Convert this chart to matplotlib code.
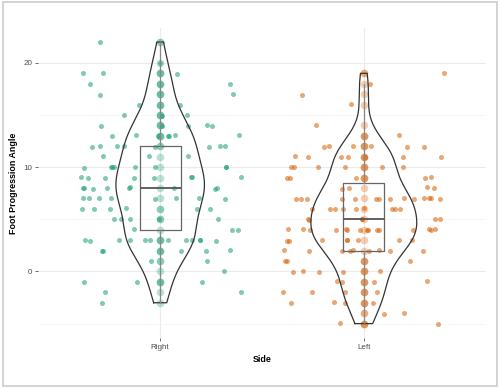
import numpy as np
import matplotlib
matplotlib.use("Agg")
import matplotlib.pyplot as plt
from matplotlib.patches import Rectangle

plt.rcParams['font.family'] = ['Liberation Sans', 'DejaVu Sans']

categories = ["Right", "Left"]
colors = ["#1b9e77", "#d95f02"]

# values (integer angles) and how many observations sit on each value
right_levels = [22, 20, 19, 18, 17, 16, 15, 14, 13, 12, 11, 10, 9, 8, 7, 6, 5, 4, 3, 2, 1, 0, -1, -2, -3]
right_counts = [1, 1, 3, 2, 2, 2, 3, 5, 7, 8, 3, 8, 8, 9, 8, 6, 5, 3, 12, 5, 2, 1, 3, 2, 1]
left_levels = [19, 18, 17, 16, 14, 13, 12, 11, 10, 9, 8, 7, 6, 5, 4, 3, 2, 1, 0, -1, -2, -3, -4, -5]
left_counts = [1, 1, 1, 1, 1, 1, 6, 7, 6, 5, 4, 14, 9, 6, 15, 8, 9, 3, 5, 4, 4, 4, 2, 2]

# centre column: overlapping points per value
right_center_stack = [2, 1, 3, 3, 3, 3, 3, 3, 3, 2, 1, 1, 1, 1, 1, 2, 2, 1, 3, 3, 2, 1, 3, 1, 1]
left_center_stack = [2, 1, 1, 1, 1, 3, 3, 3, 3, 3, 1, 1, 1, 1, 1, 1, 1, 3, 3, 3, 3, 3, 2, 3]

groups = [
    (np.repeat(right_levels, right_counts).astype(float), right_levels, right_center_stack),
    (np.repeat(left_levels, left_counts).astype(float), left_levels, left_center_stack),
]

fig = plt.figure(figsize=(5.0, 3.88), dpi=100)
ax = fig.add_axes([0.076, 0.1289, 0.896, 0.799])

fig.patches.append(Rectangle((3 / 500, 2.5 / 388), 493.5 / 500, 384 / 388, transform=fig.transFigure,
                             fill=False, edgecolor="#cccccc", linewidth=1.2, zorder=0))


def nrd0(x):
    sd = np.std(x, ddof=1)
    iqr = np.subtract(*np.percentile(x, [75, 25]))
    return 0.9 * min(sd, iqr / 1.34) * len(x) ** (-0.2)


def kde(x, grid):
    bw = nrd0(x)
    z = (grid[:, None] - x[None, :]) / bw
    return np.exp(-0.5 * z ** 2).sum(axis=1) / (len(x) * bw * np.sqrt(2 * np.pi))


rng = np.random.default_rng(11)
dens_list = []
for data, _, _ in groups:
    grid = np.linspace(data.min(), data.max(), 512)
    dens_list.append((grid, kde(data, grid)))
max_half = 0.26
scale = max_half / max(d.max() for _, d in dens_list)

for i, ((data, levels, stack), (grid, dens), col) in enumerate(zip(groups, dens_list, colors)):
    pos = i + 1
    # jittered points
    jx = pos + rng.uniform(-0.4, 0.4, len(data))
    jy = data + rng.uniform(-0.06, 0.06, len(data))
    ax.scatter(jx, jy, s=13, color=col, alpha=0.55, linewidths=0, zorder=3)
    # centre column
    cy = np.repeat(levels, stack)
    ax.scatter(np.full(len(cy), pos), cy, s=30, color=col, alpha=0.3, linewidths=0, zorder=3)
    # violin (trimmed to data range, area-scaled)
    w = dens * scale
    xs = np.concatenate([pos - w, (pos + w)[::-1], [pos - w[0]]])
    ys = np.concatenate([grid, grid[::-1], [grid[0]]])
    ax.plot(xs, ys, color="#333333", lw=0.9, zorder=4, solid_joinstyle="round")
    # box
    ax.boxplot([data], positions=[pos], widths=0.2, showfliers=False, showcaps=False,
               whis=1.5, manage_ticks=False,
               boxprops=dict(color="#666666", lw=0.9),
               whiskerprops=dict(color="#888888", lw=0.9),
               medianprops=dict(color="#555555", lw=1.3),
               zorder=5)

ax.set_xlim(0.4, 2.6)
ax.set_ylim(-6.38, 23.35)
ax.set_xticks([1, 2])
ax.set_xticklabels(categories)
ax.set_yticks([0, 10, 20])
ax.set_yticks([-5, 5, 15], minor=True)
ax.grid(True, which="major", color="#ebebeb", lw=0.8, zorder=0)
ax.grid(True, which="minor", axis="y", color="#f5f5f5", lw=0.6, zorder=0)
ax.set_axisbelow(True)
for s in ax.spines.values():
    s.set_visible(False)
ax.tick_params(axis="both", which="major", length=2.2, width=0.5, color="#333333",
               labelsize=5.8, labelcolor="#4d4d4d", pad=2)
ax.tick_params(axis="both", which="minor", length=0)
ax.set_xlabel("Side", fontsize=6.4, fontweight="bold", labelpad=3)
ax.set_ylabel("Foot Progression Angle", fontsize=6.4, fontweight="bold", labelpad=4)

fig.savefig("out.png", dpi=100)
